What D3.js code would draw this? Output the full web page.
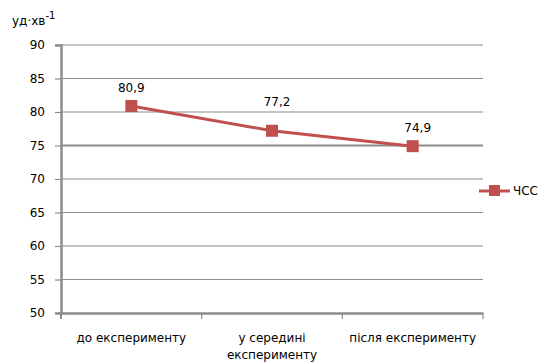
<!DOCTYPE html>
<html><head><meta charset="utf-8">
<script src="https://cdn.jsdelivr.net/npm/d3@7"></script>
<style>body{margin:0;background:#fff}svg{display:block}</style>
</head><body>
<script>
const categories = ["до експерименту", "у середині експерименту", "після експерименту"];
const categoryLines = [["до експерименту"], ["у середині", "експерименту"], ["після експерименту"]];
const values = [80.9, 77.2, 74.9];
const valueLabels = ["80,9", "77,2", "74,9"];
const yTicks = [50, 55, 60, 65, 70, 75, 80, 85, 90];
const seriesName = "ЧСС";
const color = "#c0504d";

const W = 544, H = 362;
const svg = d3.select("body").append("svg").attr("width", W).attr("height", H);
const font = "DejaVu Sans";

const x = d3.scaleBand().domain(categories).range([61, 483]);
const y = d3.scaleLinear().domain([50, 90]).range([313, 45]);

// gridlines
svg.append("g").selectAll("line").data(yTicks.filter(t => t !== 50)).join("line")
  .attr("x1", 61).attr("x2", 483)
  .attr("y1", d => y(d)).attr("y2", d => y(d))
  .attr("stroke", "#8c8c8c").attr("stroke-width", d => d === 75 ? 2 : 1.2);

// y axis
const ya = svg.append("g").attr("transform", "translate(61,0)")
  .call(d3.axisLeft(y).tickValues(yTicks).tickSize(6).tickPadding(10).tickFormat(d3.format("d")));
ya.select(".domain").attr("stroke", "#8c8c8c").attr("stroke-width", 2.5);
ya.selectAll(".tick line").attr("stroke", "#8c8c8c").attr("stroke-width", 1.2);
ya.selectAll("text").style("font-family", font).attr("font-size", 12).attr("fill", "#000");

// x axis
const xa = svg.append("g").attr("transform", "translate(0,313)")
  .call(d3.axisBottom(x).tickSize(0).tickFormat(""));
xa.select(".domain").attr("stroke", "#8c8c8c").attr("stroke-width", 2.5);
svg.append("g").selectAll("line").data(categories.slice(1).concat([null])).join("line")
  .attr("x1", d => d ? x(d) : 483).attr("x2", d => d ? x(d) : 483)
  .attr("y1", 313).attr("y2", 319).attr("stroke", "#8c8c8c").attr("stroke-width", 1.2);
svg.append("line").attr("x1", 61).attr("x2", 61).attr("y1", 313).attr("y2", 319)
  .attr("stroke", "#8c8c8c").attr("stroke-width", 2);

const xl = svg.append("g").selectAll("text").data(categories).join("text")
  .attr("x", d => x(d) + x.bandwidth() / 2).attr("y", 342)
  .attr("text-anchor", "middle").style("font-family", font).attr("font-size", 12).attr("fill", "#000");
xl.each(function(d, i) {
  const t = d3.select(this);
  categoryLines[i].forEach((ln, j) => {
    t.append("tspan").attr("x", x(d) + x.bandwidth() / 2).attr("dy", j ? 17 : 0).text(ln);
  });
});

// y label
const yl = svg.append("text").attr("x", 12).attr("y", 25)
  .style("font-family", font).attr("font-size", 12).attr("fill", "#000");
yl.append("tspan").text("уд·хв");
yl.append("tspan").attr("dy", -6).attr("font-size", 10).text("-1");

// line
const line = d3.line().x((d, i) => x(categories[i]) + x.bandwidth() / 2).y(d => y(d));
svg.append("path").datum(values).attr("d", line)
  .attr("fill", "none").attr("stroke", color).attr("stroke-width", 3);
svg.append("g").selectAll("rect").data(values).join("rect")
  .attr("x", (d, i) => x(categories[i]) + x.bandwidth() / 2 - 6)
  .attr("y", d => y(d) - 6).attr("width", 12).attr("height", 12).attr("fill", color);

// value labels
const offs = [[0, -14], [5, -25], [5, -14]];
svg.append("g").selectAll("text").data(values).join("text")
  .attr("x", (d, i) => x(categories[i]) + x.bandwidth() / 2 + offs[i][0])
  .attr("y", (d, i) => y(d) + offs[i][1])
  .attr("text-anchor", "middle").style("font-family", font).attr("font-size", 12).attr("fill", "#000")
  .text((d, i) => valueLabels[i]);

// legend
const lg = svg.append("g").attr("transform", "translate(479,191)");
lg.append("line").attr("x1", 0).attr("x2", 31).attr("stroke", color).attr("stroke-width", 3);
lg.append("rect").attr("x", 10).attr("y", -6).attr("width", 11).attr("height", 11).attr("fill", color);
lg.append("text").attr("x", 34).attr("y", 4).style("font-family", font).attr("font-size", 12).text(seriesName);
</script>
</body></html>
